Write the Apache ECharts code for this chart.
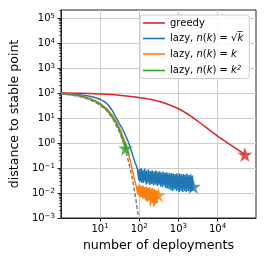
<!DOCTYPE html>
<html><head><meta charset="utf-8">
<script src="https://cdn.jsdelivr.net/npm/echarts@6/dist/echarts.min.js"></script>
<style>html,body{margin:0;padding:0;background:#fff}#c{width:266px;height:266px}</style>
</head><body><div id="c"></div>
<script>
const seriesNames = ['greedy', 'lazy, n(k) = √k', 'lazy, n(k) = k', 'lazy, n(k) = k²'];
const seriesColors = ['#d62728', '#1f77b4', '#ff7f0e', '#2ca02c'];

const greedyK = [1, 3.2, 10, 30, 72, 194, 496, 1125, 2020, 3630, 6900, 11700, 21000, 50000];
const greedyD = [100, 98, 91, 82, 71, 56, 37, 21.3, 12.2, 6.3, 2.94, 1.61, 0.86, 0.347];

const sqrtK = [1, 2, 3, 5, 7, 10, 13, 16, 20, 25, 30, 35, 40, 45, 50, 55, 60, 66, 70, 75, 80, 85, 90,
  96, 98, 101, 104, 106, 109, 112, 115, 118, 121,
  125, 128, 132, 135, 139, 143, 147, 151, 155, 159,
  163, 168, 172, 177, 182, 187, 192, 197, 203, 208,
  214, 220, 226, 232, 238, 245, 251, 258, 265, 272,
  280, 288, 295, 303, 312, 320, 329, 338, 347, 357,
  366, 376, 387, 397, 408, 419, 431, 442, 455, 467,
  480, 493, 506, 520, 534, 549, 564, 579, 595, 611,
  628, 645, 663, 681, 699, 718, 738, 758, 779, 800,
  822, 844, 867, 891, 915, 940, 966, 992, 1019, 1047,
  1076, 1105, 1135, 1166, 1198, 1231, 1264, 1299, 1334, 1371,
  1408, 1446, 1486, 1526, 1568, 1611, 1655, 1700, 1746, 1794,
  1843, 1893, 1945, 1998, 2052, 2108, 2166, 2225, 2286, 2348,
  2400];
const sqrtD = [97, 92, 86, 76, 68, 56, 45, 34, 21, 11, 6.6, 4.3, 2.9, 1.95, 1.35, 0.92, 0.62, 0.38, 0.28, 0.2, 0.15, 0.12, 0.09,
  0.075, 0.032, 0.09, 0.028, 0.065, 0.035, 0.1, 0.026, 0.07, 0.03,
  0.085, 0.025, 0.06, 0.034, 0.095, 0.028, 0.07, 0.022, 0.08, 0.03,
  0.065, 0.024, 0.088, 0.03, 0.06, 0.021, 0.075, 0.028, 0.068, 0.023,
  0.082, 0.027, 0.06, 0.02, 0.072, 0.029, 0.064, 0.022, 0.08, 0.025,
  0.062, 0.019, 0.07, 0.026, 0.056, 0.021, 0.074, 0.024, 0.06, 0.018,
  0.068, 0.023, 0.054, 0.017, 0.072, 0.025, 0.06, 0.02, 0.064, 0.016,
  0.058, 0.022, 0.068, 0.015, 0.06, 0.021, 0.052, 0.014, 0.065, 0.019,
  0.05, 0.013, 0.062, 0.018, 0.054, 0.012, 0.06, 0.017, 0.047, 0.014,
  0.058, 0.016, 0.05, 0.012, 0.062, 0.018, 0.046, 0.013, 0.055, 0.011,
  0.06, 0.016, 0.048, 0.012, 0.056, 0.015, 0.044, 0.011, 0.058, 0.017,
  0.05, 0.012, 0.055, 0.014, 0.046, 0.011, 0.06, 0.016, 0.045, 0.012,
  0.052, 0.014, 0.043, 0.011, 0.056, 0.015, 0.046, 0.012, 0.05, 0.014,
  0.018];

const linK = [1, 2, 3, 5, 7, 10, 15, 20, 25, 30, 35, 40, 45, 50, 55, 60, 65, 70, 75, 80, 85, 88,
  90, 92, 94, 96, 98, 100, 102, 104, 106, 108,
  110, 113, 115, 118, 120, 123, 126, 129, 132, 135,
  138, 141, 144, 147, 150, 154, 157, 161, 165, 169,
  173, 177, 181, 185, 189, 194, 199, 204, 209, 214,
  219, 224, 230, 236, 242, 248, 254, 260, 266, 272,
  279, 286, 293, 300, 308];
const linD = [96, 87, 79, 64, 52, 39, 23, 13.5, 7.8, 4.5, 2.6, 1.5, 0.88, 0.52, 0.3, 0.18, 0.1, 0.06, 0.037, 0.024, 0.017, 0.015,
  0.016, 0.009, 0.02, 0.008, 0.018, 0.01, 0.022, 0.007, 0.017, 0.009,
  0.015, 0.007, 0.02, 0.008, 0.016, 0.006, 0.019, 0.009, 0.014, 0.006,
  0.017, 0.008, 0.015, 0.005, 0.018, 0.007, 0.014, 0.0045, 0.016, 0.007,
  0.013, 0.005, 0.017, 0.006, 0.014, 0.003, 0.015, 0.006, 0.012, 0.004,
  0.016, 0.005, 0.013, 0.0028, 0.014, 0.006, 0.012, 0.0035, 0.013, 0.005,
  0.011, 0.004, 0.012, 0.006, 0.0083];

const sqK = [1, 2, 3, 5, 7, 10, 15, 20, 25, 30, 35, 40, 45];
const sqD = [95, 85, 76, 61, 49, 36, 21, 12, 6.8, 3.8, 2.1, 1.15, 0.62];

const boundK = [1, 2, 3, 5, 7, 10, 15, 20, 25, 30, 35, 40, 45, 50, 55, 60, 65, 70, 75, 80, 85, 90, 95, 100];
const boundD = [92, 81, 72, 57, 45, 33, 19, 10.5, 5.7, 3.1, 1.7, 0.92, 0.5, 0.27, 0.15, 0.08, 0.044, 0.024, 0.013, 0.007, 0.0038, 0.002, 0.0011, 0.0006];

const xTicks = [10, 100, 1000, 10000];
const yTicks = [0.001, 0.01, 0.1, 1, 10, 100, 1000, 10000, 100000];
const yMinorTicks = [];
yTicks.forEach(t => { for (let m = 2; m <= 9; m++) { const v = t * m; if (v < 2.09e5) yMinorTicks.push(+v.toPrecision(3)); } });

const X_MIN = 1, X_MAX = 96200, Y_MIN = 0.001, Y_MAX = 208900;

function pairs(k, d) { return k.map((v, i) => [v, d[i]]); }
function last(k, d) { return [[k[k.length - 1], d[d.length - 1]]]; }

const FONT = 'DejaVu Sans';
function powLabel(v) {
  const n = Math.round(Math.log10(v));
  if (Math.abs(Math.log10(v) - n) > 1e-6) return '';
  return '{b|10}{s|' + String(n).replace('-', '\u2212') + '}';
}
const supRich = {
  b: { fontSize: 10, fontFamily: FONT, color: '#000', lineHeight: 11, padding: [2, 0, 0, 0], verticalAlign: 'bottom' },
  s: { fontSize: 7, fontFamily: FONT, color: '#000', lineHeight: 8, verticalAlign: 'top' }
};
const STAR = 'path://M50,0 L61.2,34.5 L97.6,34.5 L68.2,55.9 L79.4,90.5 L50,69.1 L20.6,90.5 L31.8,55.9 L2.4,34.5 L38.8,34.5 Z';

const legendRich = {
  t: { fontSize: 10, fontFamily: FONT, color: '#000', lineHeight: 12 },
  i: { fontSize: 10, fontFamily: FONT, fontStyle: 'italic', color: '#000', lineHeight: 12 },
  sup: { fontSize: 7, fontFamily: FONT, fontStyle: 'italic', color: '#000', lineHeight: 8, verticalAlign: 'top' }
};
const legendText = {};
legendText[seriesNames[0]] = '{t|greedy}';
legendText[seriesNames[1]] = '{t|lazy, }{i|n}{t|(}{i|k}{t|) = √}{i|k\u0305}';
legendText[seriesNames[2]] = '{t|lazy, }{i|n}{t|(}{i|k}{t|) = }{i|k}';
legendText[seriesNames[3]] = '{t|lazy, }{i|n}{t|(}{i|k}{t|) = }{i|k}{sup|2}';

const lineData = [pairs(greedyK, greedyD), pairs(sqrtK, sqrtD), pairs(linK, linD), pairs(sqK, sqD)];
const lastPts = [last(greedyK, greedyD), last(sqrtK, sqrtD), last(linK, linD), last(sqK, sqD)];

const series = [];
lineData.forEach((d, i) => {
  series.push({
    name: seriesNames[i], type: 'line', data: d, symbol: 'none', showSymbol: false,
    smooth: i === 0 ? 0.3 : false,
    lineStyle: { color: seriesColors[i], width: 1.5 }, itemStyle: { color: seriesColors[i] },
    z: 2 + i, animation: false
  });
});
series.push({
  name: 'bound', type: 'line', data: pairs(boundK, boundD), symbol: 'none', showSymbol: false,
  lineStyle: { color: '#7f7f7f', width: 1.5, type: [4, 2] }, z: 7, animation: false
});
lastPts.forEach((p, i) => {
  series.push({
    name: seriesNames[i] + ' end', type: 'scatter', data: p, symbol: STAR, symbolSize: 15,
    itemStyle: { color: seriesColors[i] }, z: 8, animation: false, silent: true
  });
});

const chart = echarts.init(document.getElementById('c'), null, { renderer: 'canvas' });
chart.setOption({
  animation: false,
  backgroundColor: '#fff',
  textStyle: { fontFamily: FONT },
  grid: { left: 60, top: 10, width: 196, height: 208, show: true, borderColor: '#222', borderWidth: 1, backgroundColor: 'transparent' },
  legend: {
    data: seriesNames.map(n => ({ name: n, icon: 'rect' })), orient: 'vertical', left: 140, top: 15,
    itemWidth: 22, itemHeight: 1.6, itemGap: 5.5, padding: [3, 6, 3, 3],
    backgroundColor: 'rgba(255,255,255,0.8)', borderColor: '#cccccc', borderWidth: 1, borderRadius: 3,
    selectedMode: false,
    formatter: name => legendText[name],
    textStyle: { rich: legendRich, fontFamily: FONT, fontSize: 10 }
  },
  xAxis: {
    type: 'log', logBase: 10, min: X_MIN, max: X_MAX,
    name: 'number of deployments', nameLocation: 'middle', nameGap: 18,
    nameTextStyle: { fontSize: 12.6, fontFamily: FONT, color: '#000' },
    axisLine: { show: true, lineStyle: { color: '#222', width: 1 } },
    axisTick: { show: true, length: 3.5, lineStyle: { color: '#222' }, customValues: xTicks },
    axisLabel: { customValues: xTicks, formatter: powLabel, rich: supRich, margin: 5 },
    splitLine: { show: true, lineStyle: { color: '#cccccc', width: 1 } },
    minorTick: { show: false }
  },
  yAxis: [{
    type: 'log', logBase: 10, min: Y_MIN, max: Y_MAX,
    name: 'distance to stable point', nameLocation: 'middle', nameGap: 36, nameRotate: 90,
    nameTextStyle: { fontSize: 12.6, fontFamily: FONT, color: '#000' },
    axisLine: { show: true, lineStyle: { color: '#222', width: 1 } },
    axisTick: { show: true, length: 3.5, lineStyle: { color: '#222' }, customValues: yTicks },
    axisLabel: { customValues: yTicks, formatter: powLabel, rich: supRich, margin: 6 },
    splitLine: { show: true, lineStyle: { color: '#cccccc', width: 1 } }
  }, {
    type: 'log', logBase: 10, min: Y_MIN, max: Y_MAX, position: 'left',
    axisLine: { show: false },
    axisTick: { show: true, length: 2, lineStyle: { color: '#222', width: 0.7 }, customValues: yMinorTicks },
    axisLabel: { show: false },
    splitLine: { show: false }
  }],
  series: series
});
</script></body></html>
